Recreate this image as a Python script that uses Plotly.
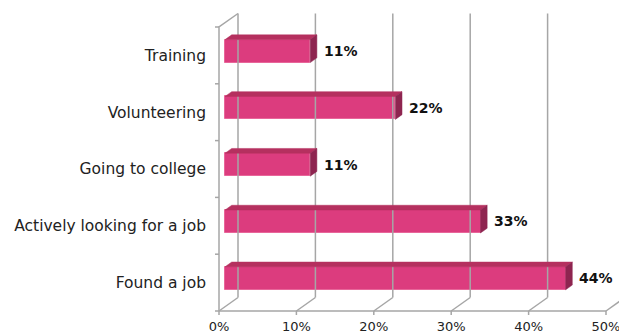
import plotly.graph_objects as go

# Survey outcomes (percent of respondents)
categories = ["Found a job", "Actively looking for a job", "Going to college",
              "Volunteering", "Training"]
values = [44, 33, 11, 22, 11]
tick_values = [0, 10, 20, 30, 40, 50]
tick_labels = ["0%", "10%", "20%", "30%", "40%", "50%"]

# Oblique projection of the depth axis into data units
DX = 19 / 7.74      # x shift (percent units) from front to back
DY = 13.5 / 56.8    # y shift (category units) from front to back
D0, D1 = 0.32, 0.67  # bar depth span
BAR_H = 0.405

FRONT = "#DC3C7E"
TOP = "#B5305F"
SIDE = "#8E2550"
GRID = "#A6A6A6"


def proj(v, c, d):
    return v + d * DX, c + d * DY


fig = go.Figure()


def add_line(pts, color=GRID, width=1.5):
    xs, ys = zip(*pts)
    fig.add_trace(go.Scatter(x=list(xs), y=list(ys), mode="lines",
                             line=dict(color=color, width=width),
                             hoverinfo="skip", showlegend=False))


n = len(categories)
vmax = tick_values[-1]

# Back wall gridlines
for v in tick_values:
    add_line([proj(v, 0, 1), proj(v, n, 1)])
# Floor: diagonals, front edge and tick marks
for v in tick_values:
    add_line([proj(v, 0, 0), proj(v, 0, 1)])
    add_line([(v, 0), (v, -4 / 56.8)])
add_line([proj(0, 0, 0), proj(vmax, 0, 0)])
# Left wall
add_line([proj(0, 0, 0), proj(0, n, 0), proj(0, n, 1)])
for c in range(n + 1):
    add_line([(0, c), (-4 / 7.74, c)])

# Bars: front face as a bar trace, top and side faces as filled polygons
centers = [i + 0.5 + D0 * DY for i in range(n)]
fig.add_trace(go.Bar(
    x=values, y=centers, base=D0 * DX, orientation="h", width=BAR_H,
    marker=dict(color=FRONT, line=dict(color="#E8669A", width=1)),
    hoverinfo="skip", showlegend=False))

for i, val in enumerate(values):
    cy = i + 0.5
    top = cy + BAR_H / 2
    bot = cy - BAR_H / 2
    face_top = [proj(0, top, D0), proj(val, top, D0), proj(val, top, D1),
                proj(0, top, D1), proj(0, top, D0)]
    face_side = [proj(val, bot, D0), proj(val, top, D0), proj(val, top, D1),
                 proj(val, bot, D1), proj(val, bot, D0)]
    for pts, col in ((face_top, TOP), (face_side, SIDE)):
        xs, ys = zip(*pts)
        fig.add_trace(go.Scatter(x=list(xs), y=list(ys), mode="lines",
                                 fill="toself", fillcolor=col,
                                 line=dict(color=col, width=0.5),
                                 hoverinfo="skip", showlegend=False))
    lx, ly = proj(val, cy, D1)
    fig.add_annotation(x=lx, y=centers[i], text=f"<b>{val}%</b>",
                       xanchor="left", yanchor="middle", xshift=5,
                       showarrow=False,
                       font=dict(family="DejaVu Sans", size=14, color="#111111"))

# Category labels on a second y axis
fig.add_trace(go.Scatter(x=[None], y=[None], yaxis="y2", showlegend=False))

x0 = (213 - 219) / 7.74
x1 = (619 - 219) / 7.74
y0 = -(317 - 311) / 56.8
y1 = 311 / 56.8

fig.update_layout(
    width=619, height=336,
    margin=dict(l=213, r=0, t=0, b=336 - 317),
    plot_bgcolor="white", paper_bgcolor="white",
    bargap=0,
    xaxis=dict(range=[x0, x1], tickvals=tick_values, ticktext=tick_labels,
               showgrid=False, zeroline=False, showline=False, ticks="",
               ticklabeloverflow="allow",
               tickfont=dict(family="DejaVu Sans", size=13, color="#222222"),
               fixedrange=True),
    yaxis=dict(range=[y0, y1], showgrid=False, zeroline=False,
               showticklabels=False, ticks="", fixedrange=True),
    yaxis2=dict(range=[y0, y1], overlaying="y", side="left",
                tickvals=[i + 0.5 for i in range(n)], ticktext=categories,
                showgrid=False, zeroline=False, showline=False, ticks="",
                ticklabelstandoff=6,
                tickfont=dict(family="DejaVu Sans", size=15.5, color="#222222"),
                fixedrange=True),
)

fig.write_html("out.html")
